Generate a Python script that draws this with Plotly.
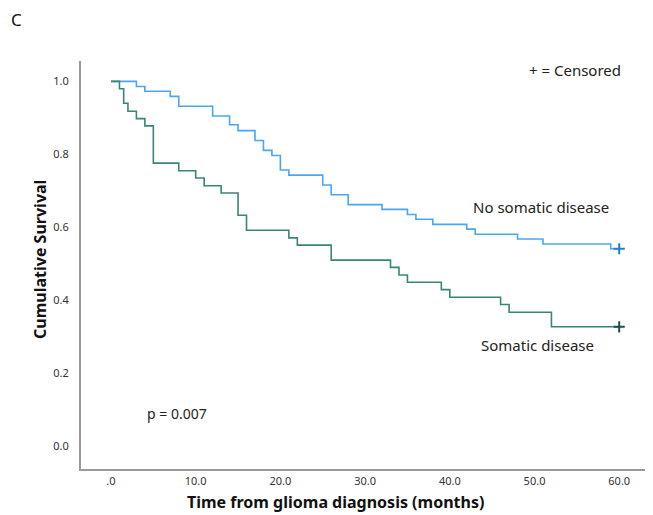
import plotly.graph_objects as go

# Kaplan-Meier step data (months, cumulative survival)
no_somatic_time = [0, 3, 4, 7, 8, 12, 14, 15, 17, 18, 19, 20, 21, 25, 26, 28, 32, 35, 36, 38, 42, 43, 48, 51, 59, 60]
no_somatic_surv = [1.0, 0.986, 0.973, 0.959, 0.932, 0.905, 0.881, 0.865, 0.838, 0.811, 0.797, 0.757, 0.743,
                   0.716, 0.689, 0.662, 0.649, 0.635, 0.622, 0.608, 0.595, 0.581, 0.568, 0.554, 0.541, 0.541]

somatic_time = [0, 1, 1.5, 2, 3, 4, 5, 8, 10, 11, 13, 15, 16, 21, 22, 26, 33, 34, 35, 39, 40, 46, 47, 52, 60]
somatic_surv = [1.0, 0.980, 0.940, 0.918, 0.898, 0.878, 0.776, 0.755, 0.735, 0.714, 0.694, 0.633, 0.592,
                0.571, 0.551, 0.510, 0.490, 0.469, 0.449, 0.429, 0.408, 0.388, 0.367, 0.327, 0.327]

censor_time = [60]
x_ticks = [0, 10, 20, 30, 40, 50, 60]
x_tick_labels = [".0", "10.0", "20.0", "30.0", "40.0", "50.0", "60.0"]
y_ticks = [0, 0.2, 0.4, 0.6, 0.8, 1.0]
y_tick_labels = ["0.0", "0.2", "0.4", "0.6", "0.8", "1.0"]

FONT = "Noto Sans, Open Sans, DejaVu Sans, sans-serif"
BLUE = "#4aa6f2"
BLUE_DARK = "#1b7fd6"
GREEN = "#3b8478"
GREEN_DARK = "#1e4f47"

# page body has an 8px default margin; size the figure to fit the 653x515 window
OFF = 8
W, H = 645, 507
ML, MR, MT, MB = 73, 5, 53, 46

fig = go.Figure()
fig.add_trace(go.Scatter(x=no_somatic_time, y=no_somatic_surv, mode="lines", line_shape="hv",
                         line=dict(color=BLUE, width=1.6), showlegend=False, hoverinfo="skip"))
fig.add_trace(go.Scatter(x=somatic_time, y=somatic_surv, mode="lines", line_shape="hv",
                         line=dict(color=GREEN, width=1.6), showlegend=False, hoverinfo="skip"))
fig.add_trace(go.Scatter(x=censor_time, y=[no_somatic_surv[-1]], mode="markers",
                         marker=dict(symbol="cross-thin", size=8, line=dict(color=BLUE_DARK, width=2)),
                         showlegend=False))
fig.add_trace(go.Scatter(x=censor_time, y=[somatic_surv[-1]], mode="markers",
                         marker=dict(symbol="cross-thin", size=8, line=dict(color=GREEN_DARK, width=2)),
                         showlegend=False))

pw = W - ML - MR
ph = H - MT - MB


def px_x(x):
    return (x - OFF - ML) / pw


def px_y(y):
    return (H - MB - (y - OFF)) / ph


annotations = [
    dict(text="+ = Censored", x=54.8, y=1.032, xref="x", yref="y", showarrow=False, font=dict(size=15)),
    dict(text="No somatic disease", x=50.8, y=0.656, xref="x", yref="y", showarrow=False, font=dict(size=15)),
    dict(text="Somatic disease", x=50.4, y=0.277, xref="x", yref="y", showarrow=False, font=dict(size=15)),
    dict(text="p = 0.007", x=7.8, y=0.088, xref="x", yref="y", showarrow=False, font=dict(size=14)),
    dict(text="C", x=px_x(16), y=px_y(20), xref="paper", yref="paper", showarrow=False,
         xanchor="center", yanchor="middle", font=dict(size=17, color="#111111")),
    dict(text="<b>Time from glioma diagnosis (months)</b>", x=px_x(335), y=px_y(502), xref="paper", yref="paper",
         showarrow=False, xanchor="center", yanchor="middle", font=dict(size=16, color="#111111")),
    dict(text="<b>Cumulative Survival</b>", x=px_x(40), y=px_y(260), xref="paper", yref="paper",
         showarrow=False, xanchor="center", yanchor="middle", textangle=-90, font=dict(size=16, color="#111111")),
]

fig.update_layout(
    width=W, height=H,
    margin=dict(l=ML, r=MR, t=MT, b=MB, autoexpand=False),
    paper_bgcolor="white", plot_bgcolor="white",
    font=dict(family=FONT, color="#222222", size=14),
    annotations=annotations,
)

fig.update_xaxes(range=[-3.54, 63.4], tickvals=x_ticks, ticktext=x_tick_labels, automargin=False,
                 showgrid=False, zeroline=False, showline=True, linecolor="#9a9a9a", linewidth=2,
                 ticks="outside", ticklen=1, tickcolor="rgba(0,0,0,0)", tickfont=dict(size=11, color="#333333"))
fig.update_yaxes(range=[-0.063, 1.056], tickvals=y_ticks, ticktext=y_tick_labels, automargin=False,
                 showgrid=False, zeroline=False, showline=True, linecolor="#9a9a9a", linewidth=2,
                 ticks="outside", ticklen=8, tickcolor="rgba(0,0,0,0)", tickfont=dict(size=11, color="#333333"))

fig.write_html("out.html")
